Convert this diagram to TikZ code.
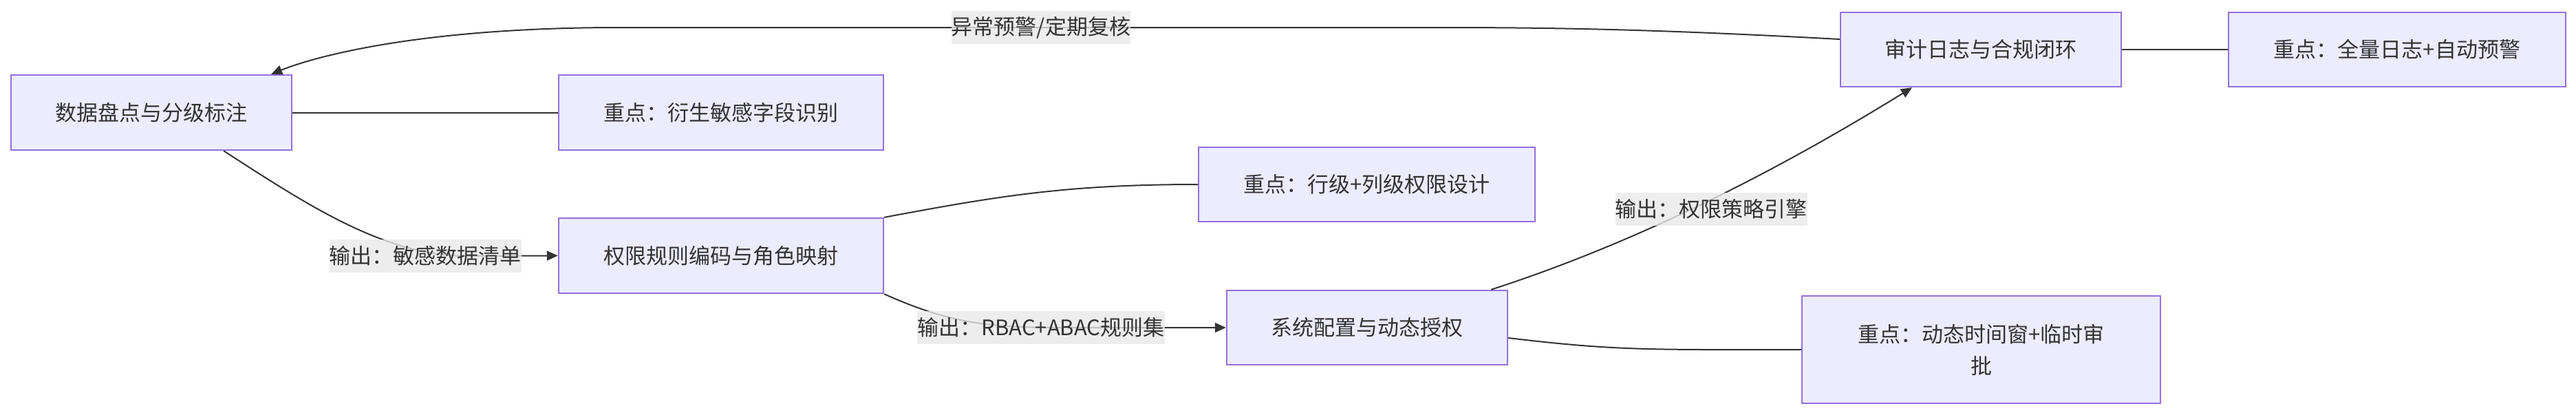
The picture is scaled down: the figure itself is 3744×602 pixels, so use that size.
\documentclass[tikz,border=0pt]{standalone}
\usepackage{fontspec}
\newfontfamily\cjk{Noto Sans CJK SC}
\usetikzlibrary{arrows.meta}
\definecolor{nodefill}{HTML}{ECECFF}
\definecolor{nodeborder}{HTML}{9370DB}
\definecolor{linec}{HTML}{333333}
\definecolor{lblfill}{HTML}{E8E8E8}
\begin{document}
\begin{tikzpicture}[x=0.5pt,y=-0.5pt,
  box/.style={draw=nodeborder, fill=nodefill, line width=1.2pt, text=linec,
    font=\cjk\fontsize{15.5}{23}\selectfont, inner sep=0pt, align=center},
  lbl/.style={fill=lblfill, fill opacity=0.8, text opacity=1, text=linec,
    font=\cjk\fontsize{15.5}{23}\selectfont, inner xsep=0pt, inner ysep=0pt, minimum height=24pt},
  edge/.style={draw=linec, line width=1pt},
  arr/.style={edge, -{Triangle[length=8pt,width=7pt]}}]
\useasboundingbox (0,0) rectangle (3744,602);
% nodes
\node[box, minimum width=204pt, minimum height=54.5pt] (A) at (220,163.5) {数据盘点与分级标注};
\node[box, minimum width=236pt, minimum height=54.5pt] (B) at (1048,163.5) {重点：衍生敏感字段识别};
\node[box, minimum width=236pt, minimum height=54.5pt] (C) at (1048,371.5) {权限规则编码与角色映射};
\node[box, minimum width=244.5pt, minimum height=54pt] (D) at (1986.5,268) {重点：行级+列级权限设计};
\node[box, minimum width=204pt, minimum height=54pt] (E) at (1987,476) {系统配置与动态授权};
\node[box, minimum width=260.5pt, minimum height=78pt] (F) at (2879.5,508) {重点：动态时间窗+临时审\\批};
\node[box, minimum width=204pt, minimum height=54pt] (G) at (2879,72) {审计日志与合规闭环};
\node[box, minimum width=245pt, minimum height=54pt] (H) at (3484,72) {重点：全量日志+自动预警};
% label positions
\coordinate (l1) at (618,372);
\coordinate (l2) at (1513,476);
\coordinate (l3) at (2487,304);
\coordinate (l4) at (1513,40);
% edges
\draw[edge] (A.east) -- (B.west);
\draw[edge] (G.east) -- (H.west);
\draw[arr] ([xshift=-50pt]A.south east) .. controls (450,300) and (560,372) .. (680,372) -- (C.west);
\draw[edge] (C.north east) .. controls (1450,285) and (1550,268) .. (D.west);
\draw[arr] (C.south east) .. controls (1380,470) and (1440,476) .. (1540,476) -- (E.west);
\draw[edge] ([yshift=-7.5pt]E.east) .. controls (2350,510) and (2400,508) .. (F.west);
\draw[arr] ([xshift=-12.5pt]E.north east) .. controls (2340,365) and (2540,275) .. ([xshift=-50pt]G.south);
\draw[arr] ([yshift=7.5pt]G.west) .. controls (2450,45) and (2300,40) .. (2100,40) -- (900,40) .. controls (600,40) and (450,85) .. ([xshift=-15.5pt]A.north east);
% labels
\node[lbl] (L1) at (l1) {输出：敏感数据清单};
\node[lbl] (L2) at (l2) {输出：RBAC+ABAC规则集};
\node[lbl] (L3) at (l3) {输出：权限策略引擎};
\node[lbl] (L4) at (l4) {异常预警/定期复核};
\end{tikzpicture}
\end{document}
